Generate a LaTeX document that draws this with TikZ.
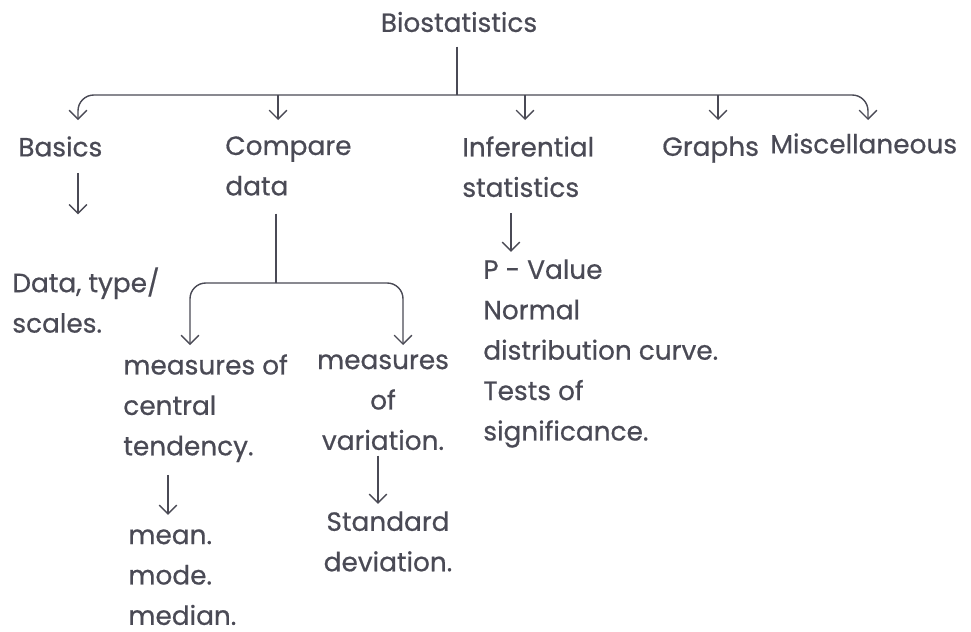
\documentclass[tikz,border=0pt]{standalone}
\usepackage{fontspec}
\setmainfont{Poppins}[FakeBold=0.6]
\usepackage{tikz}
\usetikzlibrary{arrows.meta}
\definecolor{pencil}{HTML}{4A4A55}
\tikzset{>={Straight Barb[length=5pt,width=10pt]}}
\tikzset{
  hand/.style={font=\fontsize{15}{23}\selectfont, text=pencil, inner sep=0pt, align=left},
  wire/.style={draw=pencil, line width=0.8pt},
  arr/.style={wire, ->}
}

\begin{document}
\begin{tikzpicture}[x=0.02cm, y=-0.02cm]
      \useasboundingbox (0,0) rectangle (971,632);
      % top row
      \node[hand] (bio) at (459,22) {Biostatistics};
      \node[hand, anchor=north west] (basics) at (18,136) {Basics};
      \node[hand, anchor=north west] (cmp) at (225,136) {Compare\\data};
      \node[hand, anchor=north west] (inf) at (462,136) {Inferential\\statistics};
      \node[hand, anchor=north west] (graphs) at (662,136) {Graphs};
      \node[hand, anchor=north west] (misc) at (770,133) {Miscellaneous};
      % lower levels
      \node[hand, anchor=north west] (data) at (12,267) {Data, type/\\scales.};
      \node[hand, anchor=north west] (ctr) at (123,354) {measures of\\central\\tendency.};
      \node[hand, anchor=north, align=center] (var) at (383,354) {measures\\of\\variation.};
      \node[hand, anchor=north west] (mean) at (128,529) {mean.\\mode.\\median.};
      \node[hand, anchor=north, align=center] (sd) at (388,511) {Standard\\deviation.};
      \node[hand, anchor=north west] (pval) at (483,259) {P - Value\\Normal\\distribution curve.\\Tests of\\significance.};
      % arrow ends
      \coordinate (bus) at (457,95);
      \coordinate (tBas) at (78,120);
      \coordinate (tCmp) at (278,120);
      \coordinate (tInf) at (525,120);
      \coordinate (tGra) at (718,120);
      \coordinate (tMis) at (868,120);
      \coordinate (sub) at (276,283);
      \coordinate (tCtr) at (190,345);
      \coordinate (tVar) at (403,345);
      \draw[wire, shorten <=8pt] (bio.south -| bus) -- (bus);
      \draw[arr, rounded corners=9] (bus) -| (tBas);
      \draw[arr, rounded corners=9] (bus) -| (tMis);
      \draw[arr] (tCmp |- bus) -- (tCmp);
      \draw[arr] (tInf |- bus) -- (tInf);
      \draw[arr] (tGra |- bus) -- (tGra);
      \draw[arr, shorten <=9pt, shorten >=30pt] (basics.south -| tBas) -- (data.north -| tBas);
      \draw[wire, shorten <=10pt] (cmp.south -| sub) -- (sub);
      \draw[arr, rounded corners=9] (sub) -| (tCtr);
      \draw[arr, rounded corners=9] (sub) -| (tVar);
      \draw[arr, shorten <=9pt, shorten >=4pt] (inf.south -| 511,0) -- (pval.north -| 511,0);
      \draw[arr, shorten <=7pt, shorten >=8pt] (ctr.south -| 168,0) -- (mean.north -| 168,0);
      \draw[arr, shorten <=3pt, shorten >=4pt] (var.south -| 378,0) -- (sd.north -| 378,0);
\end{tikzpicture}
\end{document}
